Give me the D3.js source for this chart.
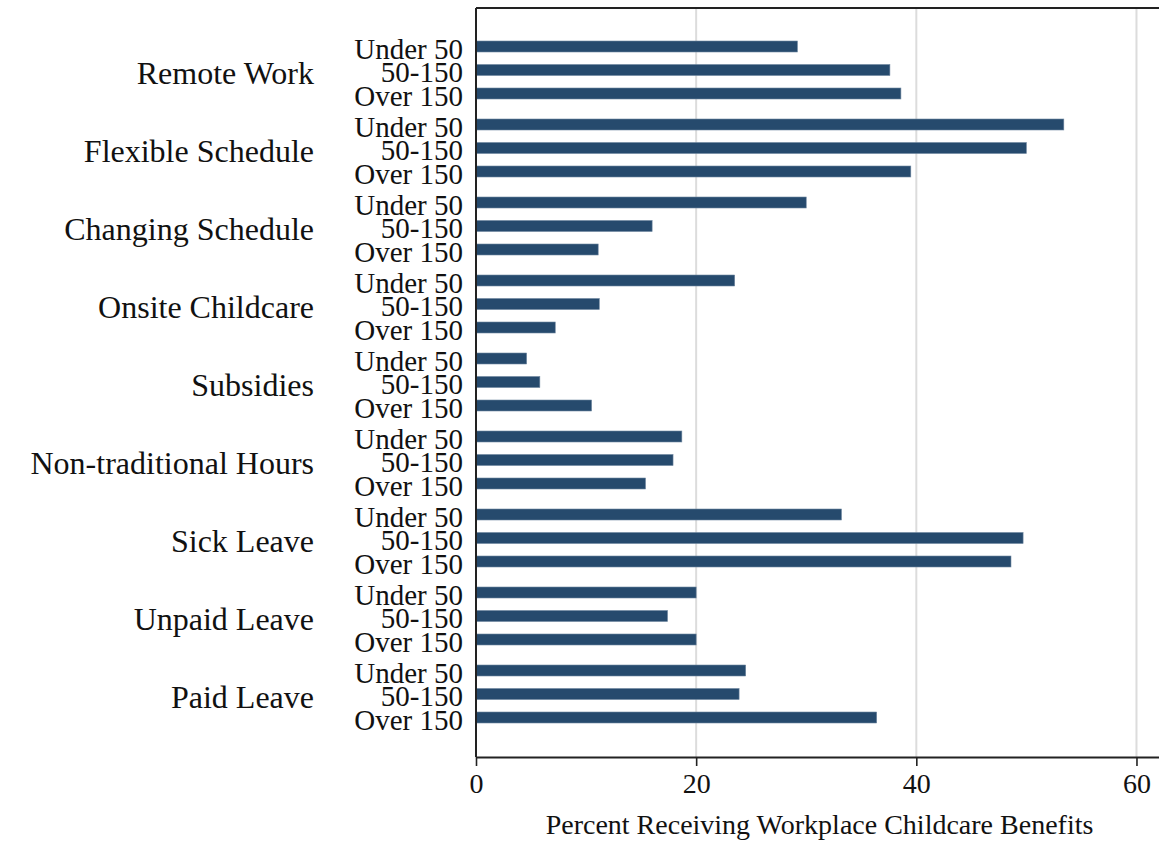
<!DOCTYPE html>
<html>
<head>
<meta charset="utf-8">
<script src="https://cdn.jsdelivr.net/npm/d3@7"></script>
<style>
  html, body { margin: 0; padding: 0; background: #fff; }
  svg text { font-family: "Liberation Serif", "Times New Roman", serif; fill: #111; }
</style>
</head>
<body>
<svg id="chart" width="1159" height="844"></svg>
<script>
// Benefit categories, top to bottom
const benefits = [
  "Remote Work", "Flexible Schedule", "Changing Schedule", "Onsite Childcare",
  "Subsidies", "Non-traditional Hours", "Sick Leave", "Unpaid Leave", "Paid Leave"
];
// Employer size groups within each benefit
const sizes = ["Under 50", "50-150", "Over 150"];
// Percent receiving each benefit, one array per size group (same order as benefits)
const under50 = [29.2, 53.4, 30.0, 23.5, 4.6, 18.7, 33.2, 20.0, 24.5];
const mid50to150 = [37.6, 50.0, 16.0, 11.2, 5.8, 17.9, 49.7, 17.4, 23.9];
const over150 = [38.6, 39.5, 11.1, 7.2, 10.5, 15.4, 48.6, 20.0, 36.4];
const xTicks = [0, 20, 40, 60];
const xTitle = "Percent Receiving Workplace Childcare Benefits";

const seriesBySize = { "Under 50": under50, "50-150": mid50to150, "Over 150": over150 };
const rows = [];
benefits.forEach((b, i) => sizes.forEach(s => rows.push({ benefit: b, size: s, value: seriesBySize[s][i] })));

const svg = d3.select("#chart");
const plot = { left: 476, top: 8, bottom: 757, right: 1175 };

const x = d3.scaleLinear().domain([0, 63.5]).range([plot.left, plot.right]);
const yGroup = d3.scaleBand().domain(benefits).range([31, 733]).paddingInner(0);
const ySub = d3.scalePoint().domain(sizes).range([15.5, 62.5]);
const barH = 11;
const yCenter = d => yGroup(d.benefit) + ySub(d.size);

// vertical gridlines
svg.append("g").selectAll("line").data(xTicks.filter(t => t > 0)).join("line")
  .attr("x1", d => x(d)).attr("x2", d => x(d))
  .attr("y1", plot.top).attr("y2", plot.bottom)
  .attr("stroke", "#dcdcdc").attr("stroke-width", 2);

// bars
svg.append("g").selectAll("rect").data(rows).join("rect")
  .attr("x", x(0))
  .attr("y", d => yCenter(d) - barH / 2)
  .attr("width", d => x(d.value) - x(0))
  .attr("height", barH)
  .attr("fill", "#264a6d")
  .attr("stroke", "#6f87a0").attr("stroke-width", 0.6);

// frame: top border and left axis line
svg.append("line").attr("x1", plot.left).attr("x2", 1159)
  .attr("y1", plot.top).attr("y2", plot.top)
  .attr("stroke", "#222").attr("stroke-width", 2);
svg.append("line").attr("x1", plot.left).attr("x2", plot.left)
  .attr("y1", plot.top).attr("y2", plot.bottom)
  .attr("stroke", "#222").attr("stroke-width", 2);

// bottom axis
const xAxis = d3.axisBottom(x).tickValues(xTicks).tickSize(9).tickPadding(7).tickFormat(d3.format("d"));
const gx = svg.append("g").attr("transform", `translate(0,${plot.bottom})`).call(xAxis)
  .attr("font-size", null).attr("font-family", null);
gx.select(".domain").attr("stroke", "#222").attr("stroke-width", 2)
  .attr("d", `M${plot.left},0.5H1159`);
gx.selectAll(".tick line").attr("stroke", "#222").attr("stroke-width", 1.6);
gx.selectAll(".tick text").style("font-size", "28px").attr("fill", "#111");

// axis title
svg.append("text").attr("x", (527 + 1112) / 2).attr("y", 834)
  .attr("text-anchor", "middle").style("font-size", "28px")
  .text(xTitle);

// size group labels
svg.append("g").selectAll("text").data(rows).join("text")
  .attr("x", 463).attr("y", d => yCenter(d) + 12)
  .attr("text-anchor", "end").style("font-size", "29px")
  .text(d => d.size);

// benefit labels, centred on each group's middle bar
svg.append("g").selectAll("text").data(benefits).join("text")
  .attr("x", 314).attr("y", d => yGroup(d) + ySub("50-150") + 14)
  .attr("text-anchor", "end").style("font-size", "32px")
  .text(d => d);
</script>
</body>
</html>
